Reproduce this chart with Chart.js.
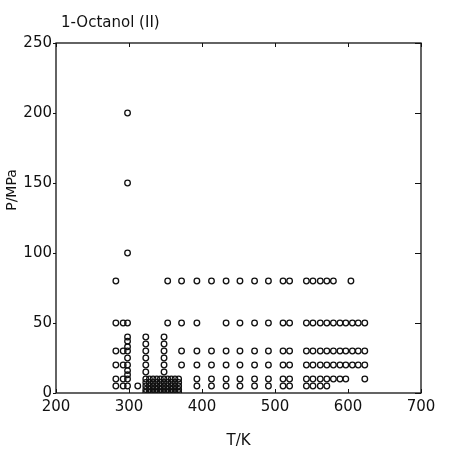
<!DOCTYPE html>
<html>
<head>
<meta charset="utf-8">
<script src="https://cdn.jsdelivr.net/npm/chart.js@4/dist/chart.umd.min.js"></script>
<style>
  html, body { margin: 0; padding: 0; background: #fff; }
  #wrap { width: 454px; height: 449px; }
</style>
</head>
<body>
<div id="wrap"><canvas id="chart" width="454" height="449"></canvas></div>
<script>
// isobars (P in MPa) measured at the higher temperatures
const isobarP = [80, 50, 30, 20, 10, 5];
const isobarT = [
    [353, 372, 393, 413, 433, 452, 472, 491, 511, 520, 543, 552, 562, 571, 580, 604],
    [353, 372, 393, 433, 452, 472, 491, 511, 520, 543, 552, 562, 571, 580, 589, 597, 606, 614, 623],
    [372, 393, 413, 433, 452, 472, 491, 511, 520, 543, 552, 562, 571, 580, 589, 597, 606, 614, 623],
    [372, 393, 413, 433, 452, 472, 491, 511, 520, 543, 552, 562, 571, 580, 589, 597, 606, 614, 623],
    [393, 413, 433, 452, 472, 491, 511, 520, 543, 552, 562, 571, 580, 589, 597, 623],
    [393, 413, 433, 452, 472, 491, 511, 520, 543, 552, 562, 571]
];

// isotherms (T in K) at the low temperature end
const isothermT = [282, 292, 298, 312, 323, 348];
const isothermP = [
    [5, 10, 20, 30, 50, 80],
    [5, 10, 20, 30, 50],
    [5, 10, 13, 16, 20, 25, 30, 33, 37, 40, 50, 100, 150, 200],
    [5],
    [15, 20, 25, 30, 35, 40],
    [15, 20, 25, 30, 35, 40]
];

// dense block of low pressure points between 320 and 370 K
const clusterT = [323, 328, 333, 338, 343, 348, 353, 358, 363, 368];
const clusterP = [0.5, 2.5, 5, 7.5, 10];

const xTicks = [200, 300, 400, 500, 600, 700];
const yTicks = [0, 50, 100, 150, 200, 250];

const points = [];
isobarP.forEach((p, i) => isobarT[i].forEach(t => points.push({ x: t, y: p })));
isothermT.forEach((t, i) => isothermP[i].forEach(p => points.push({ x: t, y: p })));
clusterT.forEach(t => clusterP.forEach(p => points.push({ x: t, y: p })));

const FONT = '"DejaVu Sans", sans-serif';
const INK = '#111';

// frame, inward ticks and the texts
const framePlugin = {
    id: 'frame',
    afterDraw(chart) {
        const { ctx, chartArea: a, scales } = chart;
        ctx.save();
        ctx.strokeStyle = INK;
        ctx.lineWidth = 1.3;
        ctx.strokeRect(a.left, a.top, a.right - a.left, a.bottom - a.top);
        ctx.lineWidth = 1;
        xTicks.forEach(v => {
            const x = Math.round(scales.x.getPixelForValue(v)) + 0.5;
            ctx.beginPath();
            ctx.moveTo(x, a.bottom); ctx.lineTo(x, a.bottom - 4);
            ctx.moveTo(x, a.top); ctx.lineTo(x, a.top + 4);
            ctx.stroke();
        });
        yTicks.forEach(v => {
            const y = Math.round(scales.y.getPixelForValue(v)) + 0.5;
            ctx.beginPath();
            ctx.moveTo(a.left, y); ctx.lineTo(a.left - 3, y);
            ctx.moveTo(a.right, y); ctx.lineTo(a.right - 6, y);
            ctx.stroke();
        });
        ctx.fillStyle = INK;
        ctx.font = '15px ' + FONT;
        ctx.textBaseline = 'middle';
        ctx.textAlign = 'left';
        ctx.fillText('1-Octanol (II)', 61, 23);
        ctx.textAlign = 'center';
        ctx.fillText('T/K', (a.left + a.right) / 2, 441);
        ctx.font = '14px ' + FONT;
        ctx.translate(12, 190);
        ctx.rotate(-Math.PI / 2);
        ctx.fillText('P/MPa', 0, 0);
        ctx.restore();
    }
};

new Chart(document.getElementById('chart'), {
    type: 'scatter',
    data: {
        datasets: [{
            data: points,
            pointStyle: 'circle',
            pointRadius: 2.8,
            pointBorderWidth: 1.3,
            borderColor: INK,
            backgroundColor: 'rgba(0,0,0,0)'
        }]
    },
    options: {
        responsive: false,
        animation: false,
        layout: { padding: { left: 6, right: 33, top: 43, bottom: 4 } },
        plugins: { legend: { display: false }, tooltip: { enabled: false } },
        scales: {
            x: {
                min: 200, max: 700,
                grid: { display: false, drawTicks: false },
                border: { display: false },
                afterFit: s => { s.height = 52; },
                afterBuildTicks: s => { s.ticks = xTicks.map(v => ({ value: v })); },
                ticks: { color: INK, padding: 5, font: { family: FONT, size: 15 } }
            },
            y: {
                min: 0, max: 250,
                grid: { display: false, drawTicks: false },
                border: { display: false },
                afterFit: s => { s.width = 50; },
                afterBuildTicks: s => { s.ticks = yTicks.map(v => ({ value: v })); },
                ticks: { color: INK, padding: 4, font: { family: FONT, size: 15 } }
            }
        }
    },
    plugins: [framePlugin]
});
</script>
</body>
</html>
